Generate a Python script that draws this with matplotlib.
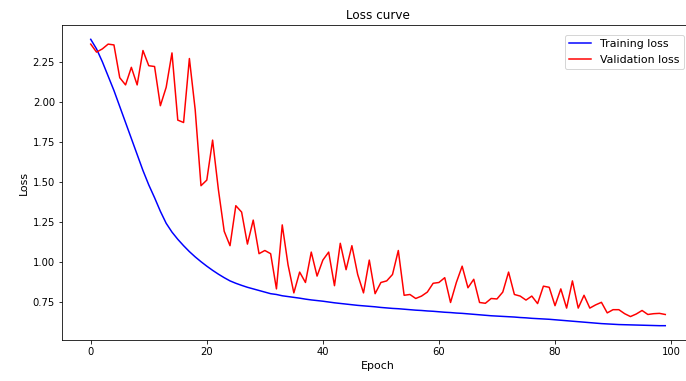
import numpy as np
import matplotlib
matplotlib.use('Agg')
import matplotlib.pyplot as plt

# Values
epochs = list(range(100))

train_loss = [
    2.39, 2.33, 2.25, 2.16, 2.07, 1.97, 1.87, 1.77, 1.67, 1.57,
    1.48, 1.40, 1.315, 1.24, 1.185, 1.14, 1.10, 1.063, 1.03, 1.00,
    0.972, 0.946, 0.922, 0.90, 0.88, 0.865, 0.852, 0.84, 0.83, 0.82,
    0.81, 0.80, 0.795, 0.787, 0.782, 0.777, 0.772, 0.766, 0.761, 0.757,
    0.753, 0.748, 0.743, 0.739, 0.735, 0.731, 0.727, 0.724, 0.721, 0.718,
    0.714, 0.711, 0.708, 0.706, 0.703, 0.700, 0.697, 0.695, 0.692, 0.690,
    0.687, 0.684, 0.682, 0.679, 0.677, 0.674, 0.671, 0.668, 0.665, 0.662,
    0.660, 0.658, 0.656, 0.654, 0.651, 0.649, 0.646, 0.644, 0.642, 0.640,
    0.637, 0.634, 0.631, 0.628, 0.625, 0.622, 0.619, 0.616, 0.613, 0.611,
    0.609, 0.607, 0.606, 0.605, 0.604, 0.603, 0.602, 0.601, 0.600, 0.600,
]

val_loss = [
    2.36, 2.31, 2.33, 2.36, 2.355, 2.15, 2.105, 2.215, 2.105, 2.32,
    2.225, 2.22, 1.975, 2.09, 2.305, 1.885, 1.87, 2.27, 1.95, 1.475,
    1.51, 1.76, 1.45, 1.19, 1.10, 1.35, 1.31, 1.11, 1.26, 1.05,
    1.07, 1.05, 0.83, 1.23, 0.98, 0.805, 0.935, 0.87, 1.06, 0.91,
    1.01, 1.06, 0.85, 1.115, 0.95, 1.10, 0.92, 0.805, 1.01, 0.80,
    0.87, 0.88, 0.92, 1.07, 0.79, 0.795, 0.77, 0.785, 0.81, 0.865,
    0.87, 0.90, 0.745, 0.87, 0.972, 0.837, 0.89, 0.745, 0.74, 0.77,
    0.767, 0.81, 0.935, 0.795, 0.785, 0.76, 0.785, 0.738, 0.847, 0.84,
    0.725, 0.83, 0.71, 0.88, 0.71, 0.79, 0.71, 0.73, 0.746, 0.68,
    0.70, 0.70, 0.675, 0.657, 0.673, 0.695, 0.67, 0.675, 0.677, 0.67,
]

W, H = 686, 381
fig = plt.figure(figsize=(W / 72, H / 72), dpi=72)
# axes runs a little past the right edge, as in the reference
ax = fig.add_axes([62 / W, (H - 340) / H, (694 - 62) / W, (340 - 25) / H])

ax.plot(epochs, train_loss, label='Training loss', color='blue')
ax.plot(epochs, val_loss, label='Validation loss', color='red')
ax.set_title('Loss curve', fontsize=12)
ax.set_xlabel('Epoch', fontsize=11)
ax.set_ylabel('Loss', fontsize=11)
ax.legend(loc='upper right', fontsize=11, borderaxespad=0.9)

fig.savefig('out.png', dpi=72)
